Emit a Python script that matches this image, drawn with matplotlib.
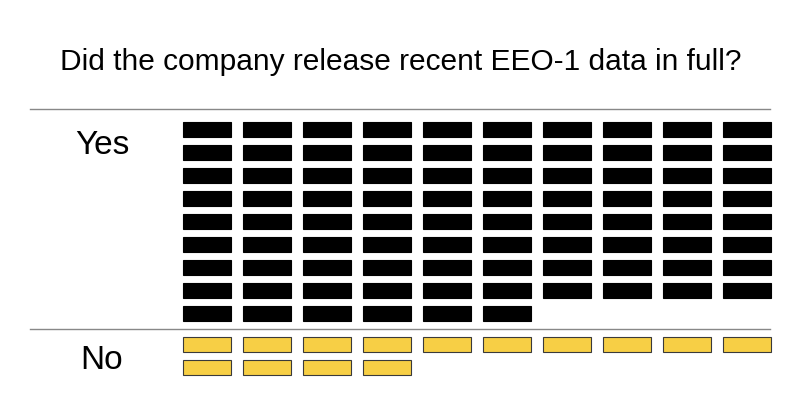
import matplotlib.pyplot as plt
from matplotlib.patches import Rectangle

title = "Did the company release recent EEO-1 data in full?"
answers = ["Yes", "No"]
counts = [86, 14]
fills = ["#000000", "#f7cf45"]
edges = ["#000000", "#3a3a3a"]

ncols = 10
x0, dx, w = 183, 60, 48
dy, h = 23, 15

fig = plt.figure(figsize=(8, 4.19), dpi=100)
ax = fig.add_axes([0, 0, 1, 1])
ax.set_xlim(0, 800)
ax.set_ylim(419, 0)
ax.axis("off")

ax.text(401, 62, title, ha="center", va="center", fontsize=21.5, family="Liberation Sans")

tops = [122, 337]
lines = [109, 329]
for lab, n, fc, ec, top, ly in zip(answers, counts, fills, edges, tops, lines):
    ax.plot([30, 770], [ly, ly], color="#888888", lw=1)
    ax.text(102, top + 23, lab, ha="center", va="center", fontsize=24, family="Liberation Sans")
    for i in range(n):
        r, c = divmod(i, ncols)
        ax.add_patch(Rectangle((x0 + c * dx, top + r * dy), w, h, facecolor=fc,
                               edgecolor=ec, lw=0.8))

fig.savefig("out.png", dpi=100)
